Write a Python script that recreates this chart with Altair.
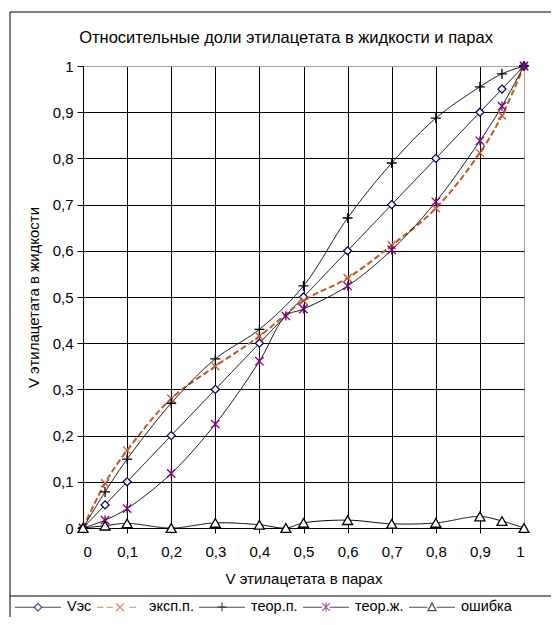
import altair as alt
import pandas as pd

# ---------------- data ----------------
title_text = "Относительные доли этилацетата в жидкости и парах"
x_title = "V этилацетата в парах"
y_title = "V этилацетата в жидкости"
series = ["Vэс", "эксп.п.", "теор.п.", "теор.ж.", "ошибка"]

x_main = [0, 0.05, 0.1, 0.2, 0.3, 0.4, 0.5, 0.6, 0.7, 0.8, 0.9, 0.95, 1]
ves = [0, 0.05, 0.1, 0.2, 0.3, 0.4, 0.5, 0.6, 0.7, 0.8, 0.9, 0.95, 1]
eksp = [0, 0.097, 0.168, 0.28, 0.35, 0.415, 0.492, 0.541, 0.612, 0.692, 0.812, 0.893, 1]
teor_p = [0, 0.078, 0.149, 0.27, 0.366, 0.43, 0.524, 0.671, 0.79, 0.887, 0.955, 0.983, 1]

x_zh = [0, 0.05, 0.1, 0.2, 0.3, 0.4, 0.46, 0.5, 0.6, 0.7, 0.8, 0.9, 0.95, 1]
teor_zh = [0, 0.017, 0.042, 0.118, 0.225, 0.361, 0.459, 0.474, 0.524, 0.602, 0.706, 0.838, 0.913, 1]
err = [0, 0.005, 0.01, 0.0, 0.011, 0.007, 0.0, 0.011, 0.017, 0.009, 0.011, 0.025, 0.015, 0]

tick_values = [0, 0.1, 0.2, 0.3, 0.4, 0.5, 0.6, 0.7, 0.8, 0.9, 1]

# ---------------- styles ----------------
line_colors = ["black", "#C8561E", "black", "black", "black"]
marker_colors = ["#00007F", "#C8561E", "black", "#800080", "black"]
line_dash = [[1, 0], [6, 3], [1, 0], [1, 0], [1, 0]]
marker_shapes = [
    "diamond",
    "M-1,-1L1,1M-1,1L1,-1",
    "M-1,0L1,0M0,-1L0,1",
    "M-1,-1L1,1M-1,1L1,-1M0,-1.1L0,1.1",
    "triangle-up",
]
marker_sizes = [64, 64, 100, 70, 100]
# same horizontal extent (-1..1) in both legend layers so their entries line up
extent = "M-1,0L-1,0M1,0L1,0"
legend_line_shapes = [
    "M-1,0L-0.16,0M0.16,0L1,0",
    "M-1,0L-0.72,0M-0.58,0L-0.3,0M0.4,0L0.7,0" + extent,
    "M-1,0L1,0",
    "M-1,0L-0.17,0M0.17,0L1,0",
    "M-1,0L-0.2,0M0.2,0L1,0",
]
legend_marker_shapes = [
    extent + "M-0.16,0L0,-0.17L0.16,0L0,0.17Z",
    extent + "M-0.17,-0.17L0.17,0.17M-0.17,0.17L0.17,-0.17",
    extent + "M-0.2,0L0.2,0M0,-0.2L0,0.2",
    extent + "M-0.17,-0.17L0.17,0.17M-0.17,0.17L0.17,-0.17M0,-0.2L0,0.2",
    extent + "M-0.18,0.15L0,-0.18L0.18,0.15Z",
]

# ---------------- table ----------------
rows = []
for s, xs, ys in [
    (series[0], x_main, ves),
    (series[1], x_main, eksp),
    (series[2], x_main, teor_p),
    (series[3], x_zh, teor_zh),
    (series[4], x_zh, err),
]:
    for xv, yv in zip(xs, ys):
        rows.append({"series": s, "x": xv, "y": yv})
df = pd.DataFrame(rows)
legend_df = pd.DataFrame({"series": series, "x": [-1.0] * len(series), "y": [-1.0] * len(series)})

label_expr = "replace(format(datum.value, '.1~f'), '.', ',')"
grid_color = alt.condition("datum.value == 1", alt.value("#A0A0A0"), alt.value("black"))

x_enc = alt.X(
    "x:Q",
    scale=alt.Scale(domain=[0, 1], nice=False, zero=False),
    axis=alt.Axis(
        values=tick_values, labelExpr=label_expr, title=x_title,
        grid=True, gridColor=grid_color, gridOpacity=1, tickColor="black", domainColor="black",
        tickSize=5, labelPadding=11, labelFontSize=15, titleFontSize=15, titleFontWeight="normal",
        titlePadding=12, labelColor="black", titleColor="black",
    ),
)
y_enc = alt.Y(
    "y:Q",
    scale=alt.Scale(domain=[0, 1], nice=False, zero=False),
    axis=alt.Axis(
        values=tick_values, labelExpr=label_expr, title=y_title,
        grid=True, gridColor=grid_color, gridOpacity=1, tickColor="black", domainColor="black",
        tickSize=6, labelPadding=4, labelFontSize=15, titleFontSize=15, titleFontWeight="normal",
        titlePadding=11, labelColor="black", titleColor="black",
    ),
)

lines = alt.Chart(df).mark_line(interpolate="catmull-rom").encode(
    x=x_enc,
    y=y_enc,
    color=alt.Color("series:N", scale=alt.Scale(domain=series, range=line_colors), legend=None),
    strokeDash=alt.StrokeDash("series:N", scale=alt.Scale(domain=series, range=line_dash), legend=None),
    strokeWidth=alt.condition("datum.series == 'эксп.п.'", alt.value(2), alt.value(1)),
    order=alt.Order("x:Q"),
)

points = alt.Chart(df).mark_point(filled=False, fill="white", fillOpacity=1, strokeWidth=1.3, opacity=1).encode(
    x="x:Q",
    y="y:Q",
    color=alt.Color("series:N", scale=alt.Scale(domain=series, range=marker_colors), legend=None),
    shape=alt.Shape("series:N", scale=alt.Scale(domain=series, range=marker_shapes), legend=None),
    size=alt.Size("series:N", scale=alt.Scale(type="ordinal", domain=series, range=marker_sizes), legend=None),
)

leg_lines = alt.Legend(title=None, orient="none", legendX=-69, legendY=517, direction="horizontal",
                       labelOpacity=0)
legend_lines_layer = alt.Chart(legend_df).mark_point(filled=False, clip=True, strokeWidth=1.2).encode(
    x="x:Q",
    y="y:Q",
    color=alt.Color("series:N", scale=alt.Scale(domain=series, range=line_colors), legend=leg_lines),
    shape=alt.Shape("series:N", scale=alt.Scale(domain=series, range=legend_line_shapes), legend=leg_lines),
)

leg_marks = alt.Legend(title=None, orient="none", legendX=-69, legendY=517, direction="horizontal")
legend_marks_layer = alt.Chart(legend_df).mark_point(filled=False, clip=True, strokeWidth=1.2).encode(
    x="x:Q",
    y="y:Q",
    color=alt.Color("series:N", scale=alt.Scale(domain=series, range=marker_colors), legend=leg_marks),
    shape=alt.Shape("series:N", scale=alt.Scale(domain=series, range=legend_marker_shapes), legend=leg_marks),
)

one = pd.DataFrame({"t": [title_text]})
title_mark = alt.Chart(one).mark_text(
    fontSize=16.5, color="black", align="center", baseline="middle"
).encode(text="t:N", x=alt.value(203), y=alt.value(-28))
frame_top = alt.Chart(one).mark_rule(color="black", strokeWidth=1).encode(
    x=alt.value(-73), x2=alt.value(468), y=alt.value(-54)
)
frame_left = alt.Chart(one).mark_rule(color="black", strokeWidth=1).encode(
    x=alt.value(-73), y=alt.value(-54), y2=alt.value(551)
)
frame_legend = alt.Chart(one).mark_rule(color="black", strokeWidth=1).encode(
    x=alt.value(-73), x2=alt.value(468), y=alt.value(530)
)

chart = (
    alt.layer(lines, points, legend_lines_layer, legend_marks_layer, title_mark,
              frame_top, frame_left, frame_legend)
    .resolve_scale(color="independent", shape="independent")
    .properties(
        width=441,
        height=462,
        autosize=alt.AutoSizeParams(type="none"),
        padding={"left": 75, "top": 58, "right": 27, "bottom": 89},
    )
    .configure(font="Liberation Sans", background="white")
    .configure_view(stroke="#A0A0A0", strokeWidth=1)
    .configure_legend(
        symbolSize=2116, labelFontSize=14.5, labelColor="black", labelOffset=5,
        columnPadding=2, symbolStrokeWidth=1.2, padding=0, symbolFillColor="white",
    )
)

chart.save("out.html", embed_options={"renderer": "svg", "actions": False})
